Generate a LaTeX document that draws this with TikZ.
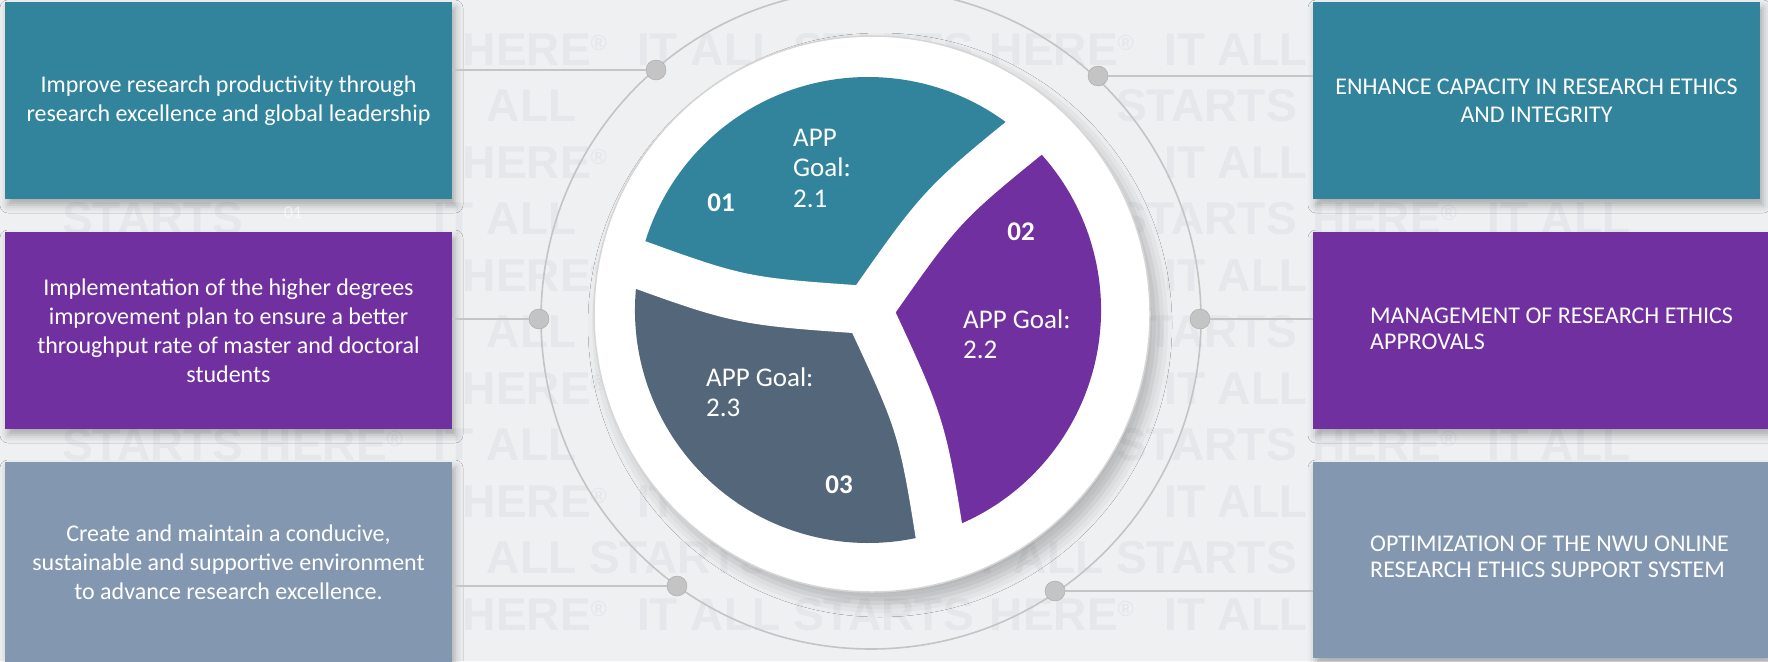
\documentclass[tikz,border=0pt]{standalone}
\usepackage{fontspec}
\setmainfont{Carlito}
\newfontfamily\wmfont{Liberation Sans}
\usetikzlibrary{shadows.blur}
\definecolor{bgc}{HTML}{EFF0F2}
\definecolor{tealc}{HTML}{31849B}
\definecolor{purc}{HTML}{7030A0}
\definecolor{slatec}{HTML}{546679}
\definecolor{bluegc}{HTML}{8497B0}
\definecolor{wmc}{HTML}{E6E7EA}
\definecolor{linec}{HTML}{C5C5C5}
\definecolor{ringc}{HTML}{C4C4C4}
\definecolor{dotc}{HTML}{C4C4C4}
\definecolor{platec}{HTML}{D6D6D6}
\newcommand\wmR{{\fontsize{22}{22}\selectfont\raisebox{14pt}{®}}}
\begin{document}
\begin{tikzpicture}[x=1pt,y=-1pt,
  box/.style={rectangle, inner sep=0pt, text=white, align=center,
    font=\fontsize{24}{29}\selectfont,
    blur shadow={shadow xshift=3pt, shadow yshift=-6pt, shadow blur radius=8pt, shadow opacity=30}},
  boxtext/.style={inner sep=0pt, text=white, align=left, font=\fontsize{24}{26}\selectfont},
  plabel/.style={inner sep=0pt, text=white, font=\fontsize{27}{30.5}\selectfont},
  numlabel/.style={inner sep=0pt, text=white, font=\fontsize{27}{30}\selectfont\bfseries},
  dot/.style={circle, fill=dotc, draw=ringc!85!black, line width=0.4pt, minimum size=20pt, inner sep=0pt},
  conn/.style={draw=linec, line width=2.5pt},
  gap/.style={draw=white, line width=48pt},
  wm/.style={inner sep=0pt, anchor=base west, text=wmc, font=\fontsize{46}{46}\selectfont\wmfont\bfseries}
]
\useasboundingbox (0,0) rectangle (1768,661);
\fill[bgc] (0,0) rectangle (1768,661);

% watermark pattern "IT ALL STARTS HERE®" (only the words that show)
\foreach \qk in {-1,...,11}{
  \pgfmathsetmacro\qy{65+56.5*\qk}
  \pgfmathsetmacro\qx{ifthenelse(mod(\qk+2,2)==0,-417,-94)}
  \foreach \qj in {0,...,4}{
    \foreach \qoff/\qwd/\qtxt [count=\qw] in {0/40.9/IT, 53.7/89.4/ALL, 155.9/184/STARTS, 352.7/144/HERE\wmR}{
      \pgfmathsetmacro\qa{\qx+527*\qj+\qoff}
      \pgfmathsetmacro\qb{\qa+\qwd}
      \pgfmathsetmacro\qt{\qy-33}
      \pgfmathsetmacro\qu{\qy+1}
      \pgfmathtruncatemacro\qedge{(\qa<0) || (\qb>1768) || (\qt<0) || (\qu>661)}
      \pgfmathtruncatemacro\qrows{((\qt<195)&&(\qu>6)) || ((\qt<425)&&(\qu>236)) || (\qu>466)}
      \pgfmathtruncatemacro\qinbox{(\qrows==1) && (((\qa<452)&&(\qb>5)) || ((\qb>1313)&&(\qa<1768)))}
      \pgfmathtruncatemacro\qfaint{(\qa<304)&&(\qb>282)&&(\qt<222)&&(\qu>204)}
      \pgfmathsetmacro\qcx{max(\qa-868,0,868-\qb)/100}
      \pgfmathsetmacro\qcy{max(\qt-310,0,310-\qu)/100}
      \pgfmathtruncatemacro\qnear{(\qcx*\qcx+\qcy*\qcy)<5.76}
      \pgfmathsetmacro\qdx{max(abs(\qa-872),abs(\qb-872))/100}
      \pgfmathsetmacro\qdy{max(abs(\qt-314),abs(\qu-314))/100}
      \pgfmathtruncatemacro\qin{(\qdx*\qdx+\qdy*\qdy)<7.73}
      \pgfmathtruncatemacro\qdrop{(\qedge==1)||(\qinbox==1)||(\qfaint==1)||(\qnear==1)||(\qin==1)}
      \ifnum\qdrop=0
        \node[wm] (wm-\qk-\qj-\qw) at (\qa,\qy) {\qtxt};
      \fi
    }
  }
}

% ring
\node[circle, draw=ringc, line width=1.6pt, minimum size=660pt, inner sep=0pt] (ring) at (871,319) {};

% boxes
\node[box, fill=tealc, minimum width=447pt, minimum height=197pt] (L1) at (228.5,100.5)
  {Improve research productivity through\\research excellence and global leadership};
\node[box, fill=purc, minimum width=447pt, minimum height=197pt] (L2) at (228.5,330.5)
  {Implementation of the higher degrees\\improvement plan to ensure a better\\throughput rate of master and doctoral\\students};
\node[box, fill=bluegc, minimum width=447pt, minimum height=200pt] (L3) at (228.5,562)
  {Create and maintain a conducive,\\sustainable and supportive environment\\to advance research excellence.};
\node[box, fill=tealc, minimum width=447pt, minimum height=197pt, font=\fontsize{24}{28}\selectfont] (R1) at (1536.5,100.5)
  {ENHANCE CAPACITY IN RESEARCH ETHICS\\AND INTEGRITY};
\node[box, fill=purc, minimum width=455pt, minimum height=197pt] (R2) at (1540.5,330.5) {};
\node[box, fill=bluegc, minimum width=455pt, minimum height=196pt] (R3) at (1540.5,560) {};
\node[boxtext, anchor=west] (R2t) at (1370,329) {MANAGEMENT OF RESEARCH ETHICS\\APPROVALS};
\node[boxtext, anchor=west] (R3t) at (1370,557) {OPTIMIZATION OF THE NWU ONLINE\\RESEARCH ETHICS SUPPORT SYSTEM};

\node[inner sep=0pt, text=white, opacity=0.6, font=\fontsize{18}{20}\selectfont] (faint01) at (293,213) {01};

% dots on the ring
\node[dot] (dL1) at (656,70) {};
\node[dot] (dR1) at (1098,76) {};
\node[dot] (dL2) at (539,319) {};
\node[dot] (dR2) at (1200,319) {};
\node[dot] (dL3) at (677,586) {};
\node[dot] (dR3) at (1055,591) {};

% connectors
\draw[conn] (L1.east |- dL1) -- (dL1.west);
\draw[conn] (dR1.east) -- (dR1 -| R1.west);
\draw[conn] (L2.east |- dL2) -- (dL2.west);
\draw[conn] (dR2.east) -- (dR2 -| R2.west);
\draw[conn] (L3.east |- dL3) -- (dL3.west);
\draw[conn] (dR3.east) -- (dR3 -| R3.west);

% white plate
\node[circle, fill=white, draw=platec, line width=1.5pt, minimum size=556pt, inner sep=0pt,
  blur shadow={shadow xshift=8pt, shadow yshift=-11pt, shadow blur radius=14pt, shadow opacity=25}] (plate) at (872,314) {};

% petals
\coordinate (hub) at (868,310);
\fill[tealc] (hub) -- ++(-47:233) arc[start angle=-47, end angle=-168, radius=233] -- cycle;
\fill[purc] (hub) -- ++(73:233) arc[start angle=73, end angle=-47, radius=233] -- cycle;
\fill[slatec] (hub) -- ++(-168:233) arc[start angle=-168, end angle=-287, radius=233] -- cycle;

\coordinate (gA) at (1041.9,123.6);
\coordinate (gB) at (618.6,257.0);
\coordinate (gC) at (942.5,553.8);
\draw[gap] (hub) .. controls (941.8,204.5) .. (gA);
\draw[gap] (hub) .. controls (739.6,301.1) .. (gB);
\draw[gap] (hub) .. controls (922.4,426.6) .. (gC);
\fill[white] (hub) circle[radius=25];

% petal labels
\node[numlabel] (n01) at (721,203) {01};
\node[numlabel] (n02) at (1021,232) {02};
\node[numlabel] (n03) at (839,485) {03};
\node[plabel, align=left, anchor=west] (g1) at (793,168) {APP\\Goal:\\2.1};
\node[plabel, align=left, anchor=west] (g2) at (963,334) {APP Goal:\\2.2};
\node[plabel, align=left, anchor=west] (g3) at (706,392) {APP Goal:\\2.3};
\end{tikzpicture}
\end{document}
